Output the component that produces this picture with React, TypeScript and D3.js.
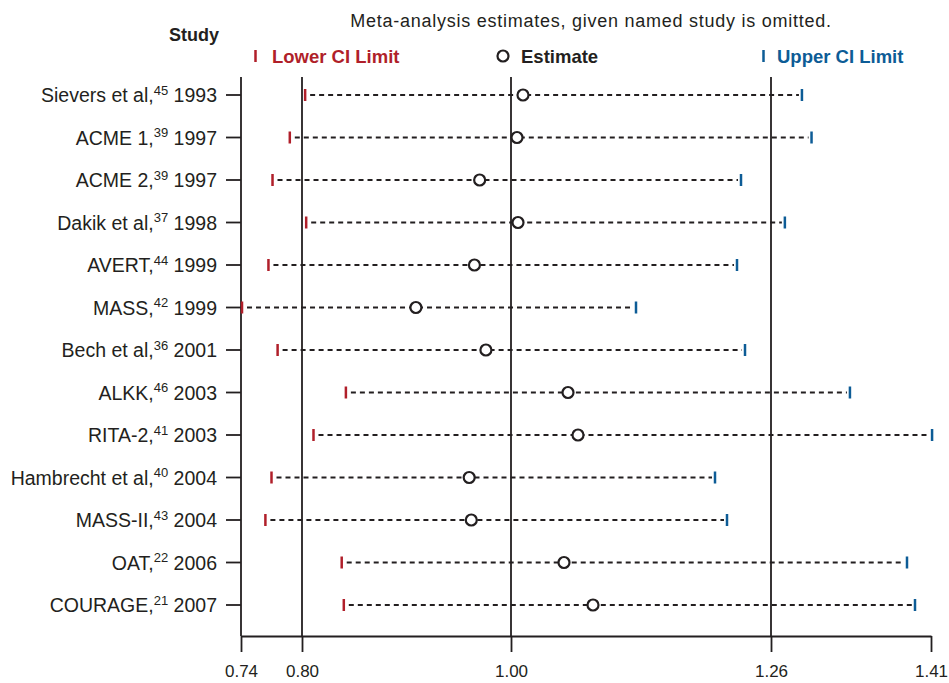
import React, { useEffect, useRef } from 'react';
import * as d3 from 'd3';

const studies = ['Sievers et al,', 'ACME 1,', 'ACME 2,', 'Dakik et al,', 'AVERT,', 'MASS,', 'Bech et al,', 'ALKK,', 'RITA-2,', 'Hambrecht et al,', 'MASS-II,', 'OAT,', 'COURAGE,'];
const refs = ['45', '39', '39', '37', '44', '42', '36', '46', '41', '40', '43', '22', '21'];
const years = ['1993', '1997', '1997', '1998', '1999', '1999', '2001', '2003', '2003', '2004', '2004', '2006', '2007'];

const lower = [0.803, 0.788, 0.771, 0.804, 0.767, 0.741, 0.776, 0.842, 0.811, 0.77, 0.764, 0.838, 0.84];
const estimate = [1.012, 1.006, 0.97, 1.007, 0.965, 0.909, 0.976, 1.057, 1.067, 0.96, 0.962, 1.053, 1.082];
const upper = [1.289, 1.298, 1.23, 1.273, 1.226, 1.125, 1.234, 1.334, 1.411, 1.204, 1.216, 1.3875, 1.395];

const tickValues = [0.74, 0.8, 1.0, 1.26, 1.41];
const refLines = [0.8, 1.0, 1.26];

const RED = '#b01f2a';
const BLUE = '#0d5c96';
const INK = '#231f20';
const FONT = '"Liberation Sans", Arial, sans-serif';

const App: React.FC = () => {
  const svgRef = useRef<SVGSVGElement>(null);

  useEffect(() => {
    document.body.style.margin = '0';
    if (!svgRef.current) return;
    const svg = d3.select(svgRef.current);
    svg.selectAll('*').remove();

    // the printed axis is not quite even, so map each labelled tick to where it sits
    const x = d3.scaleLinear().domain(tickValues).range([241, 302, 511, 771, 931]);
    const y = d3.scalePoint<number>().domain(d3.range(studies.length)).range([95, 605]);
    const top = 77;
    const axisY = 636;

    const rows = studies.map((s, i) => ({ s, ref: refs[i], year: years[i], lo: lower[i], est: estimate[i], hi: upper[i], i }));

    // header
    svg.append('text')
      .attr('x', 591).attr('y', 27)
      .attr('text-anchor', 'middle')
      .attr('font-family', FONT).attr('font-size', 18).attr('letter-spacing', 0.75)
      .attr('fill', INK)
      .text('Meta-analysis estimates, given named study is omitted.');

    svg.append('text')
      .attr('x', 194).attr('y', 41)
      .attr('text-anchor', 'middle')
      .attr('font-family', FONT).attr('font-size', 18).attr('font-weight', 'bold')
      .attr('fill', INK)
      .text('Study');

    // legend
    const legY = 56;
    const leg = svg.append('g').attr('font-family', FONT).attr('font-size', 18.5).attr('font-weight', 'bold');
    leg.append('line').attr('x1', 255.5).attr('x2', 255.5).attr('y1', legY - 6).attr('y2', legY + 6)
      .attr('stroke', RED).attr('stroke-width', 2.5);
    leg.append('text').attr('x', 272).attr('y', legY + 6.5).attr('fill', RED).text('Lower CI Limit');
    leg.append('circle').attr('cx', 503).attr('cy', legY).attr('r', 5.5)
      .attr('fill', 'white').attr('stroke', INK).attr('stroke-width', 2.2);
    leg.append('text').attr('x', 521).attr('y', legY + 6.5).attr('fill', INK).text('Estimate');
    leg.append('line').attr('x1', 763.5).attr('x2', 763.5).attr('y1', legY - 6).attr('y2', legY + 6)
      .attr('stroke', BLUE).attr('stroke-width', 2.5);
    leg.append('text').attr('x', 777).attr('y', legY + 6.5).attr('fill', BLUE).text('Upper CI Limit');

    // reference lines
    svg.append('g').selectAll('line').data(refLines).enter().append('line')
      .attr('x1', d => x(d)).attr('x2', d => x(d))
      .attr('y1', top).attr('y2', axisY)
      .attr('stroke', INK).attr('stroke-width', 1.8);

    // left axis
    svg.append('line').attr('x1', x(0.74)).attr('x2', x(0.74)).attr('y1', top).attr('y2', axisY)
      .attr('stroke', INK).attr('stroke-width', 1.8);
    svg.append('g').selectAll('line').data(rows).enter().append('line')
      .attr('x1', x(0.74) - 15).attr('x2', x(0.74))
      .attr('y1', d => y(d.i)!).attr('y2', d => y(d.i)!)
      .attr('stroke', INK).attr('stroke-width', 1.8);

    // row labels
    const labels = svg.append('g').selectAll('text').data(rows).enter().append('text')
      .attr('x', 217).attr('y', d => y(d.i)! + 7)
      .attr('text-anchor', 'end')
      .attr('font-family', FONT).attr('font-size', 19.5)
      .attr('fill', INK);
    labels.append('tspan').text(d => d.s);
    labels.append('tspan').attr('font-size', 13).attr('dy', -7.5).text(d => d.ref);
    labels.append('tspan').attr('dy', 7.5).text(d => '\u00a0' + d.year);

    // bottom axis
    const axis = svg.append('g').attr('transform', `translate(0,${axisY})`)
      .call(d3.axisBottom(x).tickValues(tickValues).tickFormat(d3.format('.2f')).tickSize(16).tickSizeOuter(0));
    axis.select('.domain').attr('stroke', INK).attr('stroke-width', 1.8);
    axis.selectAll('.tick line').attr('stroke', INK).attr('stroke-width', 1.8);
    axis.selectAll('.tick text')
      .attr('font-family', FONT).attr('font-size', 17).attr('fill', INK)
      .attr('y', 29).attr('dy', '0.71em');

    // dashed CI lines
    svg.append('g').selectAll('line').data(rows).enter().append('line')
      .attr('x1', d => x(d.lo) + 5).attr('x2', d => x(d.hi) - 3)
      .attr('y1', d => y(d.i)!).attr('y2', d => y(d.i)!)
      .attr('stroke', INK).attr('stroke-width', 2)
      .attr('stroke-dasharray', '5,4');

    // lower / upper marks
    svg.append('g').selectAll('line').data(rows).enter().append('line')
      .attr('x1', d => x(d.lo)).attr('x2', d => x(d.lo))
      .attr('y1', d => y(d.i)! - 6).attr('y2', d => y(d.i)! + 6)
      .attr('stroke', RED).attr('stroke-width', 2.5);
    svg.append('g').selectAll('line').data(rows).enter().append('line')
      .attr('x1', d => x(d.hi)).attr('x2', d => x(d.hi))
      .attr('y1', d => y(d.i)! - 6).attr('y2', d => y(d.i)! + 6)
      .attr('stroke', BLUE).attr('stroke-width', 2.5);

    // estimates
    svg.append('g').selectAll('circle').data(rows).enter().append('circle')
      .attr('cx', d => x(d.est)).attr('cy', d => y(d.i)!)
      .attr('r', 5.5)
      .attr('fill', 'white').attr('stroke', INK).attr('stroke-width', 2.2);
  }, []);

  return <svg ref={svgRef} width={949} height={683} style={{ display: 'block', background: 'white' }} />;
};

export default App;
